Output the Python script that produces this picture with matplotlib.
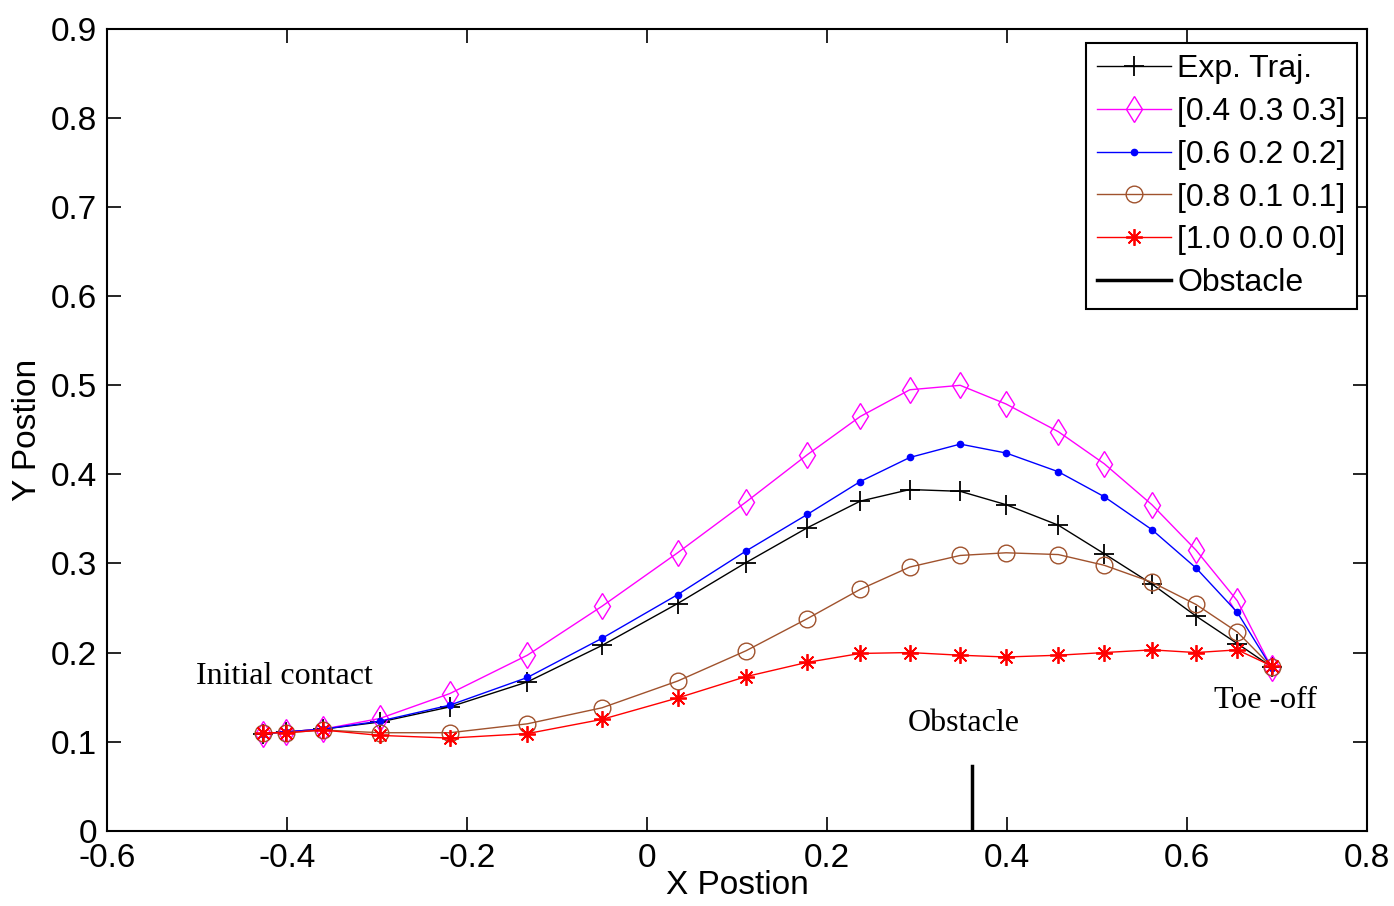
import matplotlib.pyplot as plt

# x positions of the trajectory samples (shared by all series)
x_pos = [-0.427, -0.401, -0.36, -0.297, -0.219, -0.133, -0.05, 0.034, 0.11, 0.178,
         0.237, 0.292, 0.348, 0.399, 0.457, 0.508, 0.561, 0.61, 0.656, 0.694]

y_exp = [0.109, 0.111, 0.114, 0.122, 0.139, 0.167, 0.208, 0.255, 0.301, 0.340,
         0.370, 0.383, 0.381, 0.366, 0.343, 0.311, 0.277, 0.241, 0.210, 0.184]
y_433 = [0.109, 0.111, 0.114, 0.126, 0.154, 0.197, 0.252, 0.312, 0.369, 0.422,
         0.465, 0.495, 0.500, 0.479, 0.448, 0.412, 0.366, 0.315, 0.258, 0.183]
y_622 = [0.109, 0.111, 0.114, 0.123, 0.141, 0.172, 0.216, 0.265, 0.314, 0.355,
         0.392, 0.419, 0.434, 0.424, 0.403, 0.375, 0.338, 0.295, 0.245, 0.183]
y_811 = [0.110, 0.110, 0.113, 0.110, 0.110, 0.120, 0.138, 0.168, 0.202, 0.238,
         0.271, 0.296, 0.309, 0.312, 0.310, 0.298, 0.279, 0.254, 0.223, 0.184]
y_100 = [0.110, 0.110, 0.113, 0.107, 0.104, 0.109, 0.125, 0.149, 0.173, 0.189,
         0.199, 0.200, 0.197, 0.195, 0.197, 0.200, 0.203, 0.200, 0.203, 0.185]

obstacle_x = [0.361, 0.361]
obstacle_y = [0.0, 0.073]

plt.rcParams['font.family'] = ['Liberation Sans', 'DejaVu Sans']

fig = plt.figure(figsize=(13.94, 9.06), dpi=100)
ax = fig.add_axes([0.0768, 0.0831, 0.9038, 0.8849])

lw = 1.0
ax.plot(x_pos, y_exp, color='k', marker='+', ms=15, mew=1.3, lw=lw, label='Exp. Traj.')
ax.plot(x_pos, y_433, color='#ff00ff', marker='d', ms=13, mfc='none', mew=1.0, lw=lw,
        label='[0.4 0.3 0.3]')
ax.plot(x_pos, y_622, color='#0000ff', marker='.', ms=9, lw=lw, label='[0.6 0.2 0.2]')
ax.plot(x_pos, y_811, color='#a0522d', marker='o', ms=12, mfc='none', mew=1.0, lw=lw,
        label='[0.8 0.1 0.1]')
ax.plot(x_pos, y_100, color='#ff0000', marker=(8, 2, 0), ms=12, mew=1.3, lw=lw,
        label='[1.0 0.0 0.0]')
ax.plot(obstacle_x, obstacle_y, color='k', lw=2.5, label='Obstacle')

ax.set_xlim(-0.6, 0.8)
ax.set_ylim(0, 0.9)
ax.set_xticks([-0.6, -0.4, -0.2, 0, 0.2, 0.4, 0.6, 0.8])
ax.set_xticklabels(['-0.6', '-0.4', '-0.2', '0', '0.2', '0.4', '0.6', '0.8'])
ax.set_yticks([0, 0.1, 0.2, 0.3, 0.4, 0.5, 0.6, 0.7, 0.8, 0.9])
ax.set_yticklabels(['0', '0.1', '0.2', '0.3', '0.4', '0.5', '0.6', '0.7', '0.8', '0.9'])
ax.tick_params(direction='in', length=10, width=1.2, top=True, right=True,
               labelsize=24, pad=7)
ax.tick_params(axis='x', pad=9)
for s in ax.spines.values():
    s.set_linewidth(1.5)

ax.set_xlabel('X Postion', fontsize=24, labelpad=-3)
ax.set_ylabel('Y Postion', fontsize=24, labelpad=6)

# annotations (serif, as in the original figure)
ax.text(-0.501, 0.173, 'Initial contact', family='Liberation Serif', fontsize=23, va='center')
ax.text(0.29, 0.120, 'Obstacle', family='Liberation Serif', fontsize=23, va='center')
ax.text(0.63, 0.146, 'Toe -off', family='Liberation Serif', fontsize=23, va='center')

leg = ax.legend(loc='upper right', bbox_to_anchor=(0.992, 0.9825), fontsize=23,
                fancybox=False, edgecolor='k', framealpha=1, handlelength=2.3,
                labelspacing=0.4, borderpad=0.35, handletextpad=0.2, borderaxespad=0)
leg.get_frame().set_linewidth(1.5)

fig.savefig('out.png', dpi=100)
